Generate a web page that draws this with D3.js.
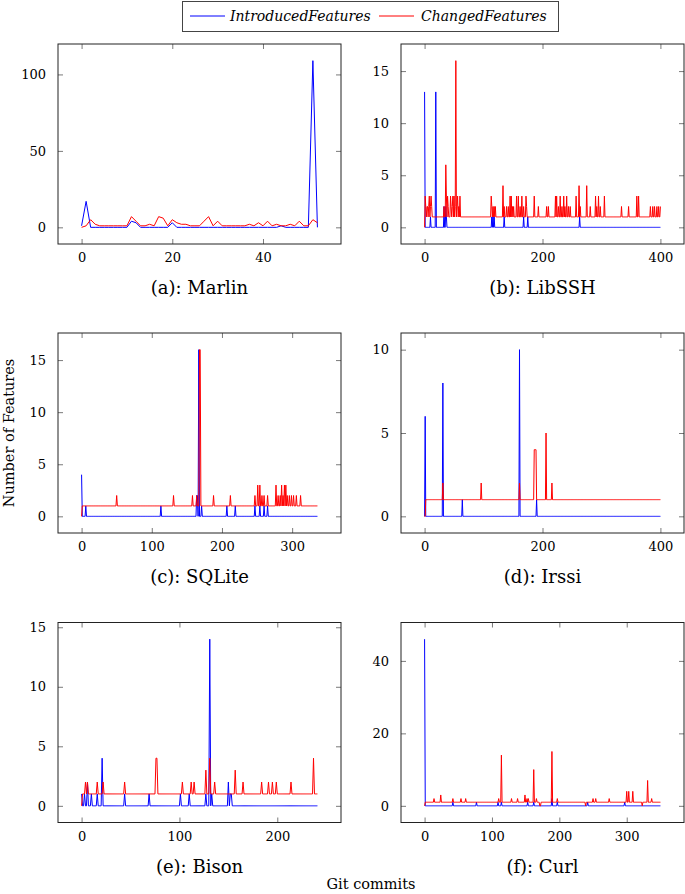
<!DOCTYPE html>
<html><head><meta charset="utf-8">
<script src="https://cdn.jsdelivr.net/npm/d3@7"></script>
<style>body{margin:0;background:#fff}svg{display:block}</style>
</head><body>
<script>
// ---------- DATA ----------
const seriesNames = ["IntroducedFeatures", "ChangedFeatures"];
const captions = ["(a): Marlin", "(b): LibSSH", "(c): SQLite", "(d): Irssi", "(e): Bison", "(f): Curl"];

// Marlin: full series (commits 0..52)
const marlinIntroduced = [1,17,0,0,0,0,0,0,0,0,0,4,3,0,0,0,0,0,0,0,3,0,0,0,0,0,0,0,0,0,0,0,0,0,0,0,0,0,0,0,0,0,0,0,1,0,0,0,0,0,0,109,0];
const marlinChanged    = [0,1,5,2,1,1,1,1,1,1,1,7,4,1,1,2,1,7,6,1,5,3,2,2,1,1,1,4,7,1,4,1,1,1,1,1,1,2,1,3,1,4,1,2,1,1,2,1,4,1,1,5,3];

// Other projects: number of commits, baseline value and [commit, value] deviations from it
const libsshCommits = 400;
const libsshIntroducedBase = 0;
const libsshIntroduced = [[0,13],[10,1],[19,13],[33,2],[36,2],[37,1],[114,1],[116,1],[118,1],[135,1],[168,1],[175,1],[263,1]];
const libsshChangedBase = 1;
const libsshChanged = [[0,0],[1,3],[2,2],[4,2],[5,2],[7,2],[8,3],[10,2],[11,3],[12,2],[33,2],[36,6],[37,3],[39,3],[40,2],[44,3],[45,2],[47,2],[48,3],[50,3],[52,2],[53,16],[55,2],[56,3],[58,2],[60,3],[113,3],[114,2],[116,2],[118,2],[120,2],[133,4],[135,2],[139,2],[142,2],[145,3],[147,3],[149,2],[151,2],[156,3],[159,3],[162,2],[165,3],[168,2],[172,3],[173,2],[186,3],[193,2],[207,2],[210,2],[222,3],[224,3],[227,2],[230,3],[233,2],[236,3],[238,2],[241,3],[244,2],[247,2],[257,3],[262,4],[264,2],[275,4],[281,2],[290,3],[292,2],[295,3],[298,2],[305,3],[334,2],[346,2],[360,3],[363,3],[383,2],[387,2],[390,2],[394,2],[397,2],[400,2]];

const sqliteCommits = 336;
const sqliteIntroducedBase = 0;
const sqliteIntroduced = [[0,4],[6,1],[113,1],[164,2],[165,2],[167,16],[171,1],[207,1],[219,1],[247,1],[254,1],[260,1],[265,1]];
const sqliteChangedBase = 1;
const sqliteChanged = [[0,0],[50,2],[131,2],[158,2],[164,2],[168,16],[169,16],[188,2],[212,2],[247,2],[251,3],[254,3],[257,2],[260,2],[265,2],[277,3],[280,2],[283,2],[285,3],[287,2],[289,3],[291,3],[293,2],[296,2],[299,2],[302,2],[306,2],[312,2]];

const irssiCommits = 400;
const irssiIntroducedBase = 0;
const irssiIntroduced = [[1,6],[31,8],[64,1],[161,10],[190,1]];
const irssiChangedBase = 1;
const irssiChanged = [[0,0],[1,0],[31,2],[96,2],[161,2],[186,4],[187,4],[188,4],[189,4],[206,5],[216,2]];

const bisonCommits = 241;
const bisonIntroducedBase = 0;
const bisonIntroduced = [[0,1],[3,1],[6,2],[10,1],[16,1],[21,4],[44,1],[69,1],[101,1],[110,1],[127,1],[131,14],[133,1],[150,2],[152,1],[153,1]];
const bisonChangedBase = 1;
const bisonChanged = [[0,0],[4,2],[6,2],[16,2],[22,2],[44,2],[76,4],[77,4],[103,2],[112,2],[115,2],[127,3],[131,4],[136,2],[157,3],[165,2],[184,2],[191,2],[195,2],[199,2],[214,2],[237,4]];

const curlCommits = 350;
const curlIntroducedBase = 0;
const curlIntroduced = [[0,46],[42,1],[77,1],[109,1],[114,1],[153,1],[162,1],[189,2],[197,1],[242,1],[297,1]];
const curlChangedBase = 1;
const curlChanged = [[0,0],[14,2],[24,3],[42,2],[54,2],[61,2],[110,2],[114,14],[129,2],[138,2],[149,3],[152,2],[154,2],[162,10],[166,2],[171,0],[172,0],[189,15],[197,2],[239,0],[250,2],[254,2],[274,2],[300,4],[303,4],[309,4],[323,0],[331,7],[337,2]];

// tick values
const marlinXTicks = [0,20,40],      marlinYTicks = [0,50,100];
const libsshXTicks = [0,200,400],    libsshYTicks = [0,5,10,15];
const sqliteXTicks = [0,100,200,300],sqliteYTicks = [0,5,10,15];
const irssiXTicks  = [0,200,400],    irssiYTicks  = [0,5,10];
const bisonXTicks  = [0,100,200],    bisonYTicks  = [0,5,10,15];
const curlXTicks   = [0,100,200,300],curlYTicks   = [0,20,40];

// ---------- BUILD ----------
function expand(n, base, devs){ const a = new Array(n+1).fill(base); devs.forEach(([i,v])=>a[i]=v); return a; }
const panels = [
  {cap:captions[0], intro:marlinIntroduced, changed:marlinChanged, xt:marlinXTicks, yt:marlinYTicks},
  {cap:captions[1], intro:expand(libsshCommits,libsshIntroducedBase,libsshIntroduced), changed:expand(libsshCommits,libsshChangedBase,libsshChanged), xt:libsshXTicks, yt:libsshYTicks},
  {cap:captions[2], intro:expand(sqliteCommits,sqliteIntroducedBase,sqliteIntroduced), changed:expand(sqliteCommits,sqliteChangedBase,sqliteChanged), xt:sqliteXTicks, yt:sqliteYTicks},
  {cap:captions[3], intro:expand(irssiCommits,irssiIntroducedBase,irssiIntroduced), changed:expand(irssiCommits,irssiChangedBase,irssiChanged), xt:irssiXTicks, yt:irssiYTicks},
  {cap:captions[4], intro:expand(bisonCommits,bisonIntroducedBase,bisonIntroduced), changed:expand(bisonCommits,bisonChangedBase,bisonChanged), xt:bisonXTicks, yt:bisonYTicks},
  {cap:captions[5], intro:expand(curlCommits,curlIntroducedBase,curlIntroduced), changed:expand(curlCommits,curlChangedBase,curlChanged), xt:curlXTicks, yt:curlYTicks},
];

const W = 685, H = 894;
const FONT = "'DejaVu Serif', 'Liberation Serif', serif";
const colX = [58, 401], rowY = [44, 333, 622.5], PW = 283, PH = 200;
const colors = ["#0000ff", "#ff0000"];

const svg = d3.select("body").append("svg").attr("width", W).attr("height", H)
  .style("font-family", FONT);

panels.forEach((p, i) => {
  const g = svg.append("g").attr("transform", `translate(${colX[i%2]},${rowY[Math.floor(i/2)]})`);
  const n = p.intro.length - 1;
  const all = p.intro.concat(p.changed);
  const ymin = d3.min(all), ymax = d3.max(all), r = ymax - ymin;
  const x = d3.scaleLinear().domain([-0.1*n, 1.1*n]).range([0, PW]);
  const y = d3.scaleLinear().domain([ymin - 0.1*r, ymax + 0.1*r]).range([PH, 0]);

  [p.intro, p.changed].forEach((s, k) => {
    g.append("path").datum(s)
      .attr("fill", "none").attr("stroke", colors[k]).attr("stroke-width", 1)
      .attr("stroke-linejoin", "round")
      .attr("d", d3.line().x((d, j) => x(j)).y(d => y(d)));
  });

  // axes with inside ticks on all four sides
  const tl = 5;
  const axB = d3.axisBottom(x).tickValues(p.xt).tickSizeInner(-tl).tickSizeOuter(0).tickPadding(9);
  const axT = d3.axisTop(x).tickValues(p.xt).tickSizeInner(-tl).tickSizeOuter(0).tickFormat("");
  const axL = d3.axisLeft(y).tickValues(p.yt).tickSizeInner(-tl).tickSizeOuter(0).tickPadding(12);
  const axR = d3.axisRight(y).tickValues(p.yt).tickSizeInner(-tl).tickSizeOuter(0).tickFormat("");
  const gb = g.append("g").attr("transform", `translate(0,${PH})`).call(axB);
  const gt = g.append("g").call(axT);
  const gl = g.append("g").call(axL);
  const gr = g.append("g").attr("transform", `translate(${PW},0)`).call(axR);
  [gb, gt, gl, gr].forEach(a => {
    a.attr("font-family", null);
    a.select(".domain").remove();
    a.selectAll(".tick line").attr("stroke", "#7a7a7a").attr("stroke-width", 1);
    a.selectAll("text").attr("fill", "#000").style("font-family", FONT).style("font-size", "13px");
  });

  g.append("rect").attr("x", 0).attr("y", 0).attr("width", PW).attr("height", PH)
    .attr("fill", "none").attr("stroke", "#222").attr("stroke-width", 1);

  g.append("text").attr("x", PW/2).attr("y", 250).attr("text-anchor", "middle")
    .style("font-size", "18px").text(p.cap);
});

// axis titles
svg.append("text").attr("transform", "translate(14,433) rotate(-90)").attr("text-anchor", "middle")
  .style("font-size", "14.5px").text("Number of Features");
svg.append("text").attr("x", 371).attr("y", 889).attr("text-anchor", "middle")
  .style("font-size", "14.5px").text("Git commits");

// legend
const lg = svg.append("g");
lg.append("rect").attr("x", 182.5).attr("y", 1.5).attr("width", 376).attr("height", 30)
  .attr("fill", "#fff").attr("stroke", "#444").attr("stroke-width", 1);
const legendX = [190, 379], legendTextX = [230, 421];
seriesNames.forEach((nm, k) => {
  lg.append("line").attr("x1", legendX[k]).attr("x2", legendX[k] + 35).attr("y1", 16).attr("y2", 16)
    .attr("stroke", colors[k]).attr("stroke-width", 1);
  lg.append("text").attr("x", legendTextX[k]).attr("y", 21).style("font-style", "italic")
    .style("font-size", "14px").text(nm);
});
</script>
</body></html>
